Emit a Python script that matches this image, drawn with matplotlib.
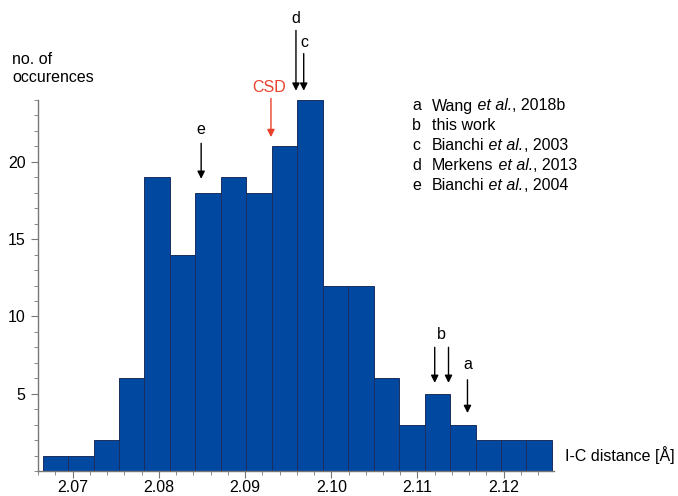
import numpy as np
import matplotlib.pyplot as plt
from matplotlib.ticker import MultipleLocator

plt.rcParams['font.family'] = ['Liberation Sans', 'DejaVu Sans']

# histogram data
bin_start = 2.0665
bin_width = 0.002955
counts = [1, 1, 2, 6, 19, 14, 18, 19, 18, 21, 24, 12, 12, 6, 3, 5, 3, 2, 2, 2]

# literature markers: label, x, arrow tail y, arrow head y, label position
marker_labels = ['e', 'd', 'c', 'b', 'b', 'a']
marker_x = [2.0849, 2.0959, 2.0968, 2.1120, 2.1136, 2.1158]
marker_tail = [21.2, 28.5, 27.0, 8.0, 8.0, 5.9]
marker_head = [18.9, 24.6, 24.6, 5.7, 5.7, 3.75]
marker_text_y = [22.06, 29.3, 27.75, 8.8, None, 6.86]
marker_text_x = [2.0849, 2.0959, 2.0969, 2.1128, None, 2.1158]

csd_x = 2.0930

legend_keys = ['a', 'b', 'c', 'd', 'e']
legend_authors = ['Wang', 'this work', 'Bianchi', 'Merkens', 'Bianchi']
legend_years = ['2018b', '', '2003', '2013', '2004']

W, H = 678, 496
fig = plt.figure(figsize=(W / 100, H / 100), dpi=100)
ax = fig.add_axes([38 / W, 1 - 471 / H, (554 - 38) / W, (471 - 100) / H])

edges = bin_start + bin_width * np.arange(len(counts))
ax.bar(edges, counts, width=bin_width, align='edge', color='#0148a0',
       edgecolor='#1b2f5e', linewidth=0.7)

ax.set_xlim(2.06597, 2.12584)
ax.set_ylim(0, 24)
for s in ['top', 'right']:
    ax.spines[s].set_visible(False)
for s in ['left', 'bottom']:
    ax.spines[s].set_color('#777777')
    ax.spines[s].set_linewidth(1.0)

ax.xaxis.set_minor_locator(MultipleLocator(0.002))
ax.set_xticks([2.07, 2.08, 2.09, 2.10, 2.11, 2.12])
ax.set_xticklabels(['2.07', '2.08', '2.09', '2.10', '2.11', '2.12'])
ax.set_yticks([5, 10, 15, 20])
ax.yaxis.set_minor_locator(MultipleLocator(1))
ax.tick_params(which='both', color='#777777', labelsize=11.5)
ax.tick_params(which='major', length=5)
ax.tick_params(which='minor', length=3)
ax.tick_params(axis='x', pad=1.5)
ax.tick_params(axis='y', pad=4)

# arrows
for lab, x, ty, hy, tly, tlx in zip(marker_labels, marker_x, marker_tail,
                                    marker_head, marker_text_y, marker_text_x):
    ax.annotate('', xy=(x, hy), xytext=(x, ty),
                arrowprops=dict(arrowstyle='-|>', color='black', lw=1.0,
                                mutation_scale=11, shrinkA=0, shrinkB=0),
                annotation_clip=False)
    if tly is not None:
        ax.text(tlx, tly, lab, ha='center', va='center', fontsize=11.5,
                clip_on=False)

ax.annotate('', xy=(csd_x, 21.6), xytext=(csd_x, 24.1),
            arrowprops=dict(arrowstyle='-|>', color='#e8412b', lw=1.0,
                            mutation_scale=11, shrinkA=0, shrinkB=0),
            annotation_clip=False)
ax.text(csd_x - 0.0002, 24.84, 'CSD', ha='center', va='center', color='#e8412b',
        fontsize=11.5, clip_on=False)

# legend of references (italic "et al." chained after the author)
for i, (k, a, yr) in enumerate(zip(legend_keys, legend_authors, legend_years)):
    y = 1 - (106 + i * 19.8) / H
    fig.text(412 / W, y, k, fontsize=11.5, va='center')
    t = fig.text(432 / W, y, a, fontsize=11.5, va='center')
    if yr:
        t2 = ax.annotate(' et al.', xy=(1, 0), xycoords=t, ha='left',
                         va='bottom', fontsize=11.5, style='italic')
        ax.annotate(', ' + yr, xy=(1, 0), xycoords=t2, ha='left',
                    va='bottom', fontsize=11.5)

fig.text(12 / W, 1 - 68 / H, 'no. of\noccurences', fontsize=11.5, va='center',
         linespacing=1.25)
fig.text(565 / W, 1 - 455 / H, 'I-C distance [Å]', fontsize=11.5, va='center')

fig.savefig('out.png', dpi=100)
